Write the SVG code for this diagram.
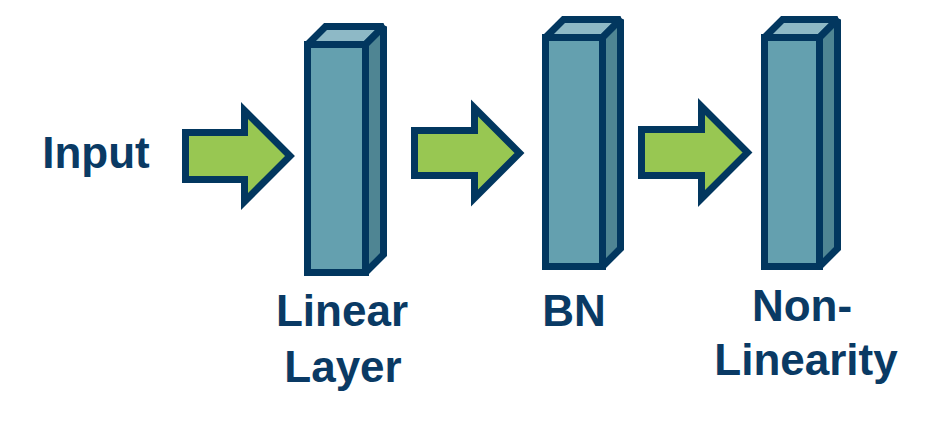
<svg xmlns="http://www.w3.org/2000/svg" width="932" height="438" viewBox="0 0 932 438">
<style>
.lbl{font-family:"Liberation Sans",Arial,sans-serif;font-weight:bold;font-size:44px;fill:#0A3A64;text-anchor:middle}
.front{fill:#64A0AF;stroke:#02375F;stroke-width:7;stroke-linejoin:miter;stroke-miterlimit:2}
.top{fill:#8EB9C6;stroke:#02375F;stroke-width:7;stroke-linejoin:miter;stroke-miterlimit:2}
.side{fill:#4F8593;stroke:#02375F;stroke-width:7;stroke-linejoin:miter;stroke-miterlimit:2}
.arrow{fill:#98C752;stroke:#02375F;stroke-width:7;stroke-linejoin:miter;stroke-miterlimit:10}
</style>
<rect width="932" height="438" fill="#FFFFFF"/>
<g id="input">
<text class="lbl" x="96" y="168">Input</text>
</g>
<g id="connectors">
<polygon class="arrow" points="185.5,132.5 244.5,132.5 244.5,110.5 290,156 244.5,201.5 244.5,179.5 185.5,179.5"/>
<polygon class="arrow" points="414.5,130.5 474.5,130.5 474.5,108 519.5,153 474.5,198 474.5,175.5 414.5,175.5"/>
<polygon class="arrow" points="641.5,129.5 701.5,129.5 701.5,106.5 747.5,152.5 701.5,198.5 701.5,175.5 641.5,175.5"/>
</g>
<g id="linear-layer">
<rect class="front" x="307.5" y="44.5" width="58" height="228"/>
<polygon class="top" points="307.5,44.5 325.5,26.5 383.5,26.5 365.5,44.5"/>
<polygon class="side" points="365.5,44.5 383.5,26.5 383.5,254.5 365.5,272.5"/>
<text class="lbl" x="342" y="326">Linear</text>
<text class="lbl" x="343" y="382">Layer</text>
</g>
<g id="bn">
<rect class="front" x="545.5" y="37.5" width="57" height="229"/>
<polygon class="top" points="545.5,37.5 563.5,19.5 620.5,19.5 602.5,37.5"/>
<polygon class="side" points="602.5,37.5 620.5,19.5 620.5,248.5 602.5,266.5"/>
<text class="lbl" x="574" y="326">BN</text>
</g>
<g id="non-linearity">
<rect class="front" x="764.5" y="37.5" width="55" height="229"/>
<polygon class="top" points="764.5,37.5 782.5,19.5 837.5,19.5 819.5,37.5"/>
<polygon class="side" points="819.5,37.5 837.5,19.5 837.5,248.5 819.5,266.5"/>
<text class="lbl" x="802" y="321">Non-</text>
<text class="lbl" x="806" y="375">Linearity</text>
</g>
</svg>
